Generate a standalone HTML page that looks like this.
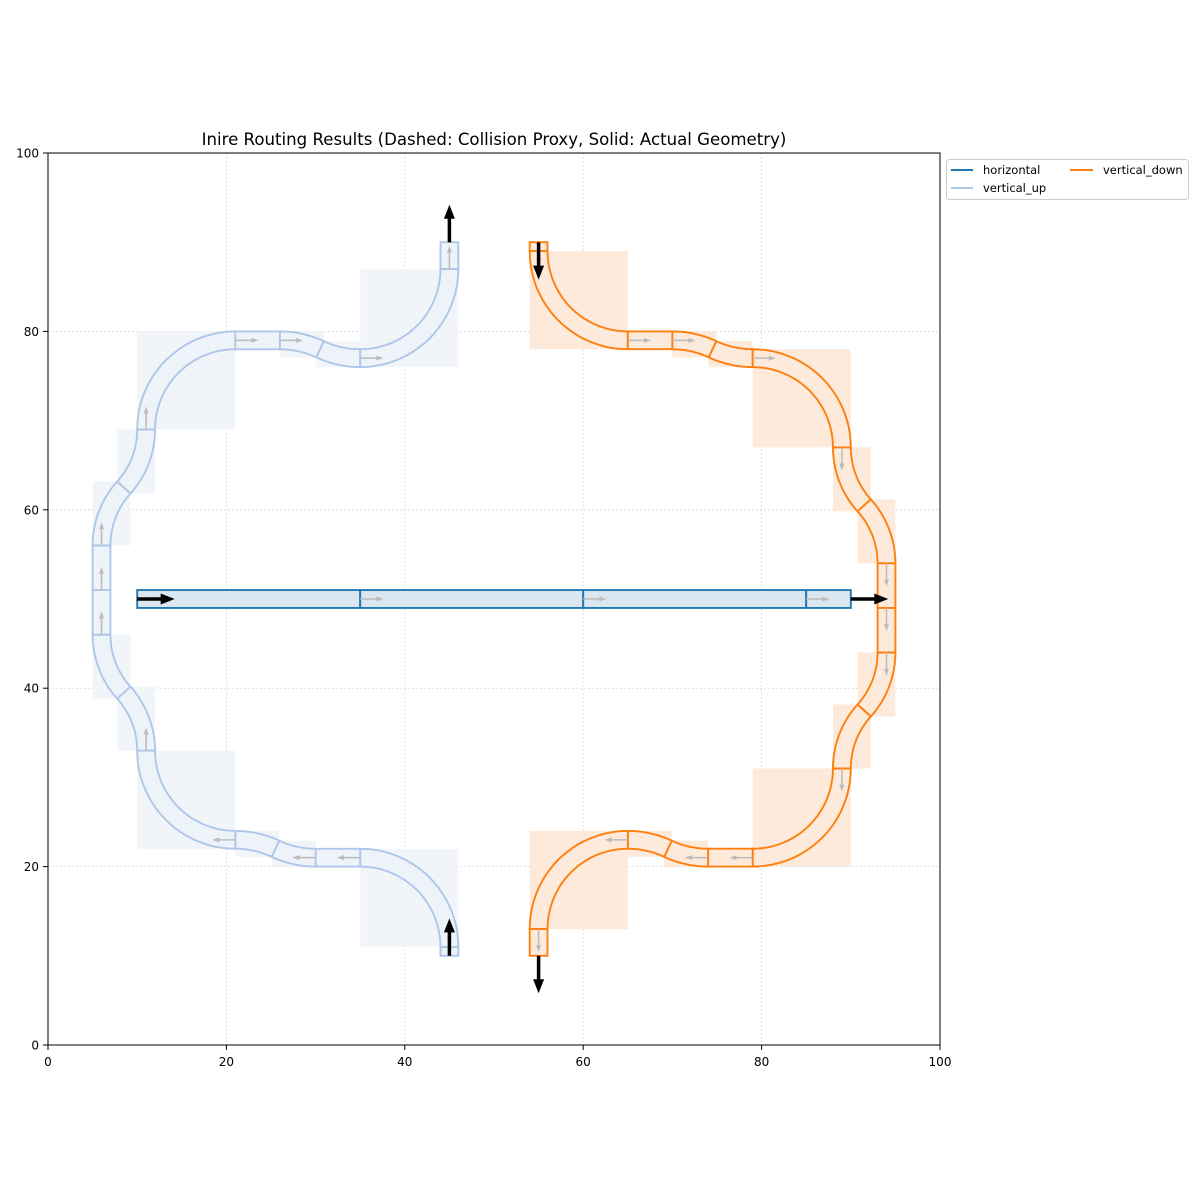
<!DOCTYPE html>
<html><head><meta charset="utf-8"><style>
body{margin:0;background:#fff;}
svg{display:block;font-family:"DejaVu Sans","Liberation Sans",sans-serif;}
</style></head><body>
<svg id="chart" width="1200" height="1200" viewBox="0 0 1200 1200">
<rect x="0" y="0" width="1200" height="1200" fill="#fff"/>
<text x="494" y="145" font-size="16.6" text-anchor="middle" fill="#000">Inire Routing Results (Dashed: Collision Proxy, Solid: Actual Geometry)</text>
<g id="grid"></g>
<g id="boxes"></g>
<g id="segs"></g>
<g id="arrows"></g>
<rect x="48" y="153" width="892" height="892" fill="none" stroke="#000" stroke-width="1"/>
<g id="ticks"></g>
<g>
<rect x="946.5" y="159.5" width="242" height="40" rx="3" fill="#fff" stroke="#ccc"/>
<line x1="951" y1="170" x2="973" y2="170" stroke="#1f77b4" stroke-width="2"/>
<text x="983" y="174" font-size="11.5">horizontal</text>
<line x1="951" y1="188" x2="973" y2="188" stroke="#aec7e8" stroke-width="2"/>
<text x="983" y="192" font-size="11.5">vertical_up</text>
<line x1="1070" y1="170" x2="1093" y2="170" stroke="#ff7f0e" stroke-width="2"/>
<text x="1103" y="174" font-size="11.5">vertical_down</text>
</g>
</svg>
<script>
// ---- data ----
const xTicks = [0,20,40,60,80,100];
const yTicks = [0,20,40,60,80,100];
const sR = 10.625, sA = 25.06, bR = 9.7, bA = 42.07;
const horizontalStart = [10,50,0];
const horizontalCmds = [["S",25],["S",25],["S",25],["S",5]];
const upStart = [45,10,90];
const upCmds = [["S",1],["T",10,90],["S",5],["T",sR,-sA],["U",sR,sA],["T",10,-90],["T",bR,bA],["U",bR,-bA],["S",5],["S",5],["T",bR,-bA],["U",bR,bA],["T",10,-90],["S",5],["T",sR,-sA],["U",sR,sA],["T",10,90],["S",3]];
const downStart = [55,90,270];
const downCmds = [["S",1],["T",10,90],["S",5],["T",sR,-sA],["U",sR,sA],["T",10,-90],["T",bR,bA],["U",bR,-bA],["S",5],["S",5],["T",bR,-bA],["U",bR,bA],["T",10,-90],["S",5],["T",sR,-sA],["U",sR,sA],["T",10,90],["S",3]];

const X = v => 48 + v*8.92;
const Y = v => 1045 - v*8.92;
const NS = "http://www.w3.org/2000/svg";
const rad = d => d*Math.PI/180;
function mk(tag, attrs, parent){const e=document.createElementNS(NS,tag);for(const k in attrs)e.setAttribute(k,attrs[k]);document.getElementById(parent).appendChild(e);return e;}

xTicks.forEach(t=>{
  if(t>0&&t<100){const g=mk("line",{x1:X(t),x2:X(t),y1:153,y2:1045,stroke:"#ccc","stroke-dasharray":"1.5,2.5","stroke-width":0.8},"grid");
  
  }
  const tk=mk("line",{x1:X(t),x2:X(t),y1:1045,y2:1050,stroke:"#000"},"ticks");
  
  
  const tl=mk("text",{x:X(t),y:1066,"font-size":12,"text-anchor":"middle"},"ticks");tl.textContent=t;
  
  
});
yTicks.forEach(t=>{
  if(t>0&&t<100){const g=mk("line",{x1:48,x2:940,y1:Y(t),y2:Y(t),stroke:"#ccc","stroke-dasharray":"1.5,2.5","stroke-width":0.8},"grid");
  
  }
  const tk=mk("line",{x1:43,x2:48,y1:Y(t),y2:Y(t),stroke:"#000"},"ticks");
  
  
  const tl=mk("text",{x:39,y:Y(t)+4.5,"font-size":12,"text-anchor":"end"},"ticks");tl.textContent=t;
  
  
});

function arrow(x,y,h,len,color,w,hw,hl,parent,name){
  const c=Math.cos(rad(h)),s=Math.sin(rad(h));
  const px=X(x),py=Y(y),L=len*8.92;
  const dx=c,dy=-s,nx=-dy,ny=dx;
  const bx=px+dx*(L-hl),by=py+dy*(L-hl),tx=px+dx*L,ty=py+dy*L;
  const pts=[[px+nx*w/2,py+ny*w/2],[bx+nx*w/2,by+ny*w/2],[bx+nx*hw/2,by+ny*hw/2],[tx,ty],[bx-nx*hw/2,by-ny*hw/2],[bx-nx*w/2,by-ny*w/2],[px-nx*w/2,py-ny*w/2]];
  const a=mk("polygon",{points:pts.map(p=>p.join(",")).join(" "),fill:color},parent);
  
  
}

function route(start,cmds,stroke,fill,boxFill,name,withBoxes){
  let [x,y,h]=start;
  const sx=x,sy=y,sh=h;
  cmds.forEach(cmd=>{
    let outer=[],inner=[];
    const hx=x,hy=y,hh=h;
    if(cmd[0]==="S"){
      const L=cmd[1],c=Math.cos(rad(h)),s=Math.sin(rad(h));
      const nx=-s,ny=c;
      const ex=x+c*L,ey=y+s*L;
      outer=[[x+nx,y+ny],[ex+nx,ey+ny]];inner=[[x-nx,y-ny],[ex-nx,ey-ny]];
      x=ex;y=ey;
    } else {
      const r=cmd[1],a=cmd[2];
      const off=a>0?90:-90;
      const cx=x+r*Math.cos(rad(h+off)),cy=y+r*Math.sin(rad(h+off));
      const p0=h-off;
      for(let i=0;i<=24;i++){const p=rad(p0+a*i/24);
        outer.push([cx+(r+1)*Math.cos(p),cy+(r+1)*Math.sin(p)]);
        inner.push([cx+(r-1)*Math.cos(p),cy+(r-1)*Math.sin(p)]);}
      x=cx+r*Math.cos(rad(p0+a));y=cy+r*Math.sin(rad(p0+a));h=h+a;
      if(withBoxes){
        const all=outer.concat(inner);
        const xs=all.map(p=>p[0]),ys=all.map(p=>p[1]);
        const x0=Math.min(...xs),x1=Math.max(...xs),y0=Math.min(...ys),y1=Math.max(...ys);
        const b=mk("rect",{x:X(x0),y:Y(y1),width:(x1-x0)*8.92,height:(y1-y0)*8.92,fill:boxFill},"boxes");
        
        
      }
    }
    const pts=outer.concat(inner.slice().reverse()).map(p=>X(p[0]).toFixed(1)+","+Y(p[1]).toFixed(1)).join(" ");
    const g=mk("polygon",{points:pts,fill:fill,stroke:stroke,"stroke-width":1.9,"stroke-linejoin":"miter"},"segs");
    
    
    if(cmd[0]!=="U") arrow(hx,hy,hh,2.6,"#bbb",1.5,5,7,"arrows",name+'-direction-arrow');
  });
  arrow(sx,sy,sh,4.2,"#000",3.5,11,14,"arrows",name+'-start-arrow');
  arrow(x,y,h,4.2,"#000",3.5,11,14,"arrows",name+'-end-arrow');
}
route(upStart,upCmds,"#aec7e8","#eef3fa","#f1f5fa","vertical-up",true);
route(downStart,downCmds,"#ff7f0e","#fdeadb","#fdeadb","vertical-down",true);
route(horizontalStart,horizontalCmds,"#1f77b4","#dae7f1","#dae7f1","horizontal",false);
</script>
</body></html>
